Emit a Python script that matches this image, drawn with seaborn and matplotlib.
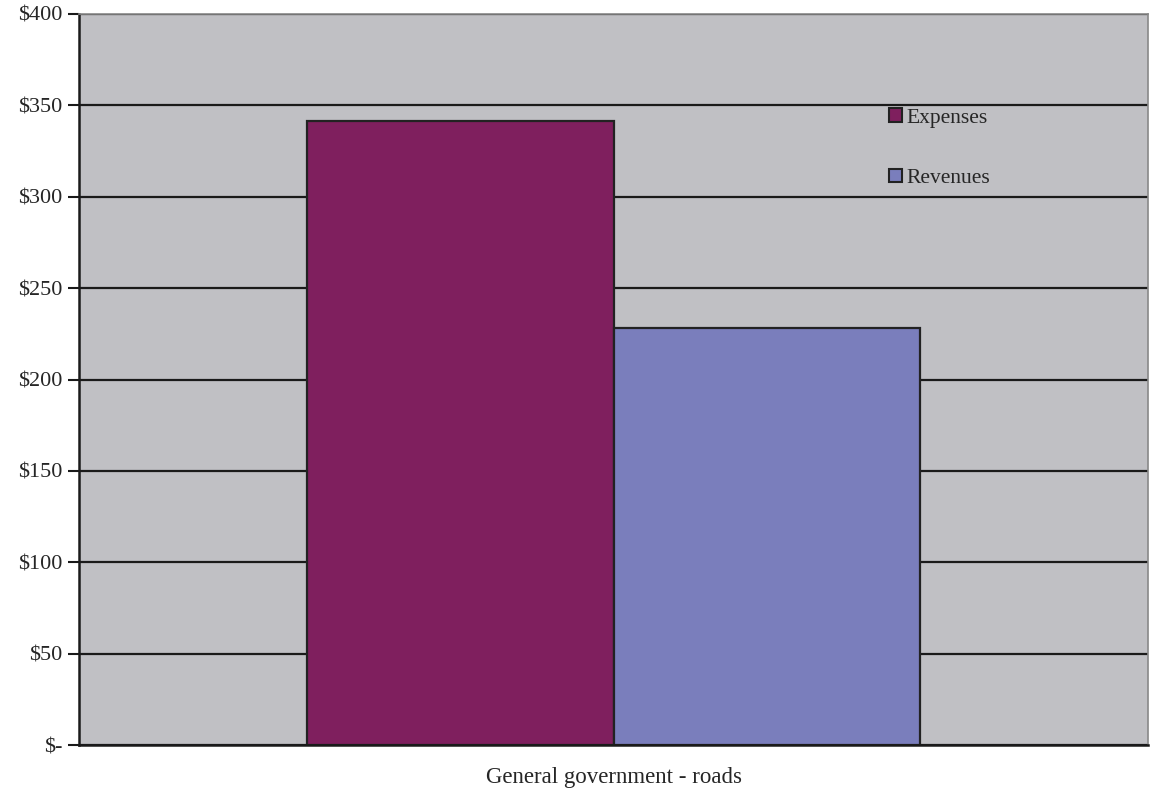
import matplotlib
matplotlib.use("Agg")
import matplotlib.pyplot as plt
import seaborn as sns
import pandas as pd
from matplotlib.patches import Patch

categories = ["General government - roads"]
series = ["Expenses", "Revenues"]
expenses = [341.5]
revenues = [228.0]
yticks = [0, 50, 100, 150, 200, 250, 300, 350, 400]
ytick_labels = ["$-", "$50", "$100", "$150", "$200", "$250", "$300", "$350", "$400"]
colors = ["#7F1F5E", "#7A7EBC"]

df = pd.DataFrame({
    "category": categories * 2,
    "series": [series[0]] * len(categories) + [series[1]] * len(categories),
    "value": expenses + revenues,
})

sns.set_theme(style="white")
plt.rcParams["font.family"] = ["Liberation Serif", "DejaVu Serif"]

fig = plt.figure(figsize=(11.51, 7.90), dpi=100)
ax = fig.add_axes([79 / 1151, 1 - 745 / 790, 1069 / 1151, 731 / 790])
ax.set_facecolor("#C0C0C4")

sns.barplot(data=df, x="category", y="value", hue="series", palette=colors,
            width=0.574, edgecolor="#222222", linewidth=1.6, ax=ax, legend=False,
            saturation=1)

ax.set_ylim(0, 400)
ax.set_xlim(-0.5, 0.5)
ax.set_yticks(yticks)
ax.set_yticklabels(ytick_labels, fontsize=16)
ax.yaxis.grid(True, color="#1a1a1a", linewidth=1.6)
ax.set_axisbelow(True)
ax.set_xticks([0])
ax.set_xticklabels([""])
ax.set_xlabel("")
ax.set_ylabel("")
ax.text(0.5, -0.03, categories[0], transform=ax.transAxes, ha="center", va="top", fontsize=16.5)

ax.tick_params(axis="y", length=8, width=1.5, color="#1a1a1a", direction="out", left=True, pad=4)
ax.tick_params(axis="x", length=0)
for side in ["left", "bottom"]:
    ax.spines[side].set_color("#1a1a1a")
    ax.spines[side].set_linewidth(1.8)
for side in ["top", "right"]:
    ax.spines[side].set_color("#888888")
    ax.spines[side].set_linewidth(1.2)

handles = [Patch(facecolor=c, edgecolor="#222222", linewidth=1.5) for c in colors]
ax.legend(handles, series, loc="upper left", bbox_to_anchor=(0.758, 0.871), frameon=False,
          fontsize=15.5, handlelength=0.6, handleheight=0.6, handletextpad=0.2,
          labelspacing=1.9, borderpad=0, borderaxespad=0)

fig.savefig("out.png", dpi=100)
